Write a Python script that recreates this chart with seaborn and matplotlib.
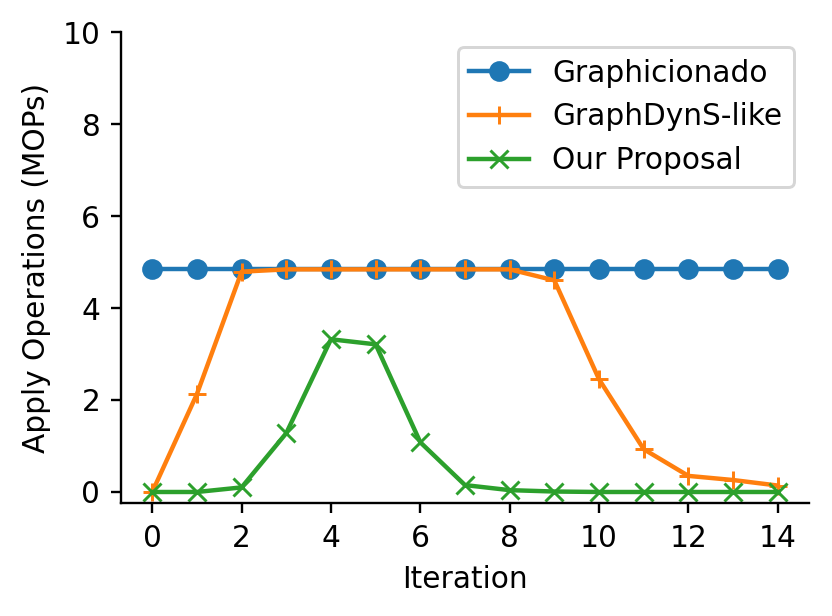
import numpy as np
import pandas as pd
import matplotlib
matplotlib.use("Agg")
import matplotlib.pyplot as plt
import seaborn as sns

iterations = list(range(15))
graphicionado = [4.84] * 15
graphdyns = [0.0, 2.13, 4.79, 4.84, 4.84, 4.84, 4.84, 4.84, 4.84, 4.60, 2.45, 0.93, 0.35, 0.26, 0.14]
proposal = [0.0, 0.0, 0.10, 1.28, 3.32, 3.21, 1.08, 0.15, 0.04, 0.01, 0.0, 0.0, 0.0, 0.0, 0.0]

DPI = 213
fig, ax = plt.subplots(figsize=(832 / DPI, 616 / DPI), dpi=DPI)
fig.subplots_adjust(left=0.1454, right=0.9724, top=0.948, bottom=0.1834)

# seaborn puts white edges on markers, so give them the line colour
series = [
    (graphicionado, 'o', '#1f77b4', 'Graphicionado'),
    (graphdyns, '+', '#ff7f0e', 'GraphDynS-like'),
    (proposal, 'x', '#2ca02c', 'Our Proposal'),
]
for vals, mk, col, name in series:
    sns.lineplot(x=iterations, y=vals, marker=mk, color=col, label=name,
                 markersize=6, markeredgewidth=1, markeredgecolor=col, ax=ax)

ax.set_ylim(-0.24, 10)
ax.set_xticks(range(0, 15, 2))
ax.set_xlabel('Iteration')
ax.set_ylabel('Apply Operations (MOPs)')
ax.legend(loc='upper right')
sns.despine()
plt.savefig('out.png', dpi=DPI)
